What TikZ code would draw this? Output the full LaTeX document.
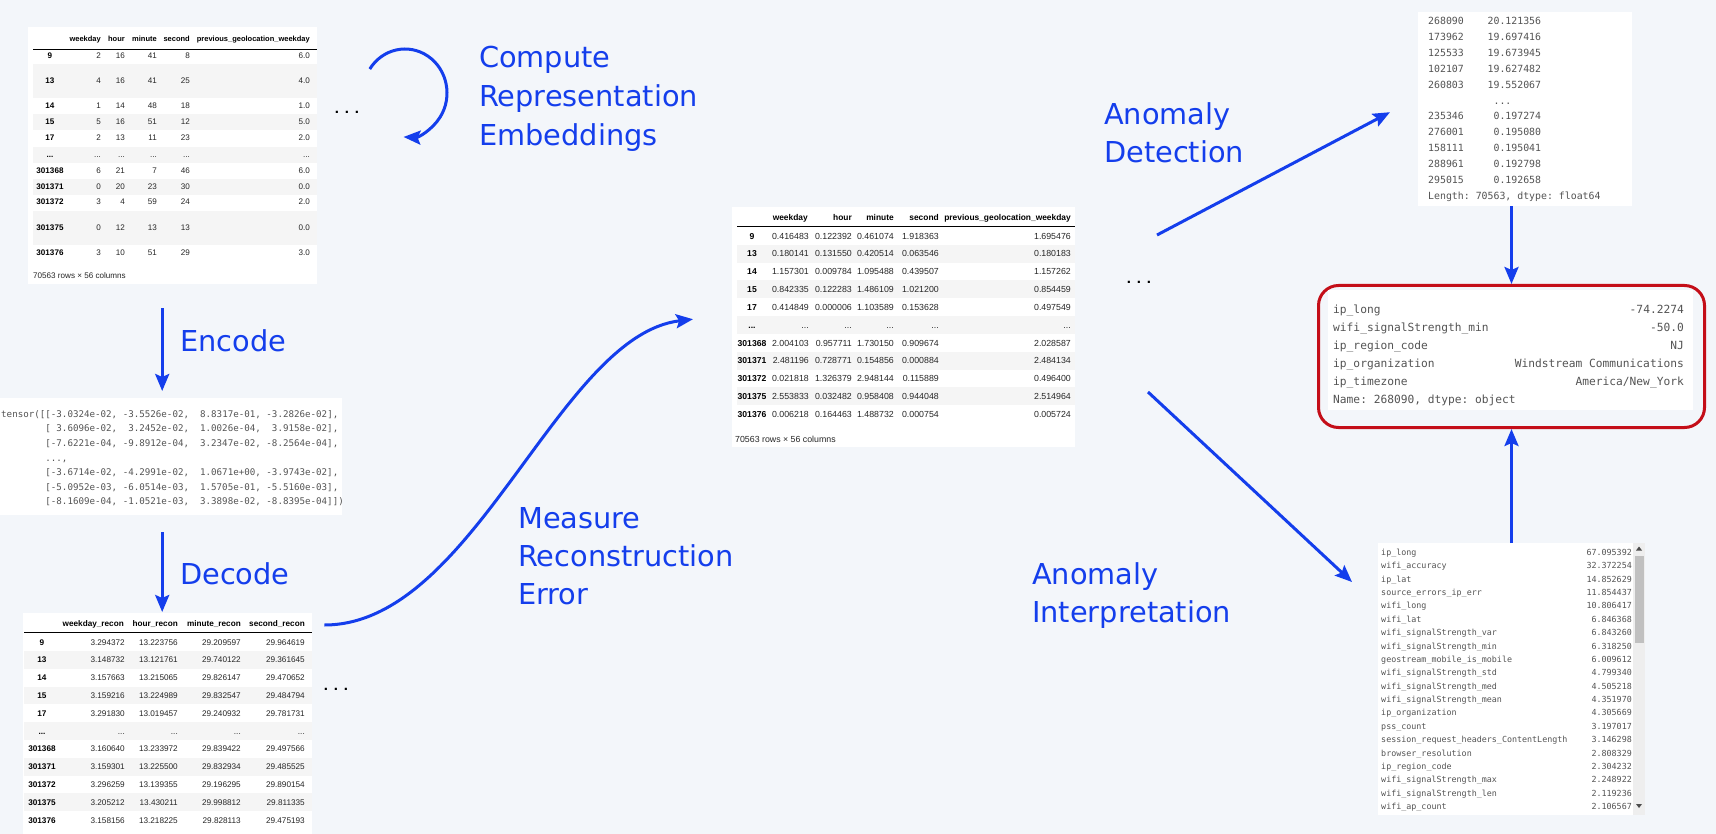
\documentclass[tikz,border=0pt]{standalone}
\usepackage{fontspec}
\setmainfont{Liberation Sans}
\newfontfamily\labelfont{DejaVu Sans}
\newfontfamily\codefont{DejaVu Sans Mono}
\usetikzlibrary{arrows.meta,calc}

\definecolor{canvas}{RGB}{243,246,250}
\definecolor{flow}{RGB}{20,62,236}
\definecolor{alert}{RGB}{196,14,24}
\definecolor{stripe}{RGB}{245,245,245}
\definecolor{ink}{RGB}{38,38,38}
\definecolor{codeink}{RGB}{84,84,84}
\definecolor{scrolltrack}{RGB}{238,238,238}
\definecolor{scrollthumb}{RGB}{192,192,192}

\newcommand\ellip{...}

\tikzset{
  arr/.style={draw=flow, line width=3pt, -{Stealth[length=17pt,width=14pt,inset=3pt]}},
  lbl/.style={font=\labelfont\fontsize{28.8}{34}\selectfont, text=flow, anchor=base west, inner sep=0},
  panel/.style={fill=white, draw=none, inner sep=0, anchor=north west},
  dotsnode/.style={inner sep=0, font=\fontsize{15}{15}\selectfont\bfseries, text=black},
  tcell/.style={inner sep=0, text=ink},
  % first table
  cA/.style={tcell, anchor=base east, font=\fontsize{8.1}{9}\selectfont},
  ixA/.style={tcell, anchor=base, font=\fontsize{8.1}{9}\selectfont\bfseries, text=black},
  hA/.style={tcell, anchor=base east, font=\fontsize{7.5}{9}\selectfont\bfseries, text=black},
  % error table
  cB/.style={tcell, anchor=base east, font=\fontsize{8.8}{10}\selectfont},
  ixB/.style={tcell, anchor=base, font=\fontsize{8.6}{10}\selectfont\bfseries, text=black},
  hB/.style={tcell, anchor=base east, font=\fontsize{8.4}{10}\selectfont\bfseries, text=black},
  % reconstruction table
  cC/.style={tcell, anchor=base east, font=\fontsize{8.2}{9}\selectfont},
  ixC/.style={tcell, anchor=base, font=\fontsize{8.2}{9}\selectfont\bfseries, text=black},
  hC/.style={tcell, anchor=base east, font=\fontsize{8.2}{9}\selectfont\bfseries, text=black},
  % code panels
  tens/.style={inner sep=0, anchor=base west, text=codeink, font=\codefont\fontsize{9.18}{11}\selectfont},
  ser/.style={inner sep=0, text=codeink, font=\codefont\fontsize{9.87}{12}\selectfont},
  rec/.style={inner sep=0, text=codeink, font=\codefont\fontsize{11.23}{13}\selectfont},
  imp/.style={inner sep=0, text=codeink, font=\codefont\fontsize{8.36}{10}\selectfont},
}

\begin{document}
\begin{tikzpicture}[x=1pt,y=-1pt]
\useasboundingbox (0,0) rectangle (1716,834);
\fill[canvas] (0,0) rectangle (1716,834);

% ---------------- input table ----------------
\node[panel, minimum width=289, minimum height=257] (t1) at (28,27) {};
\foreach \ya/\yb in {64/98,114/130,147/163,179/195,211/245}
  \fill[stripe] (33,\ya) rectangle (317,\yb);
\draw[line width=0.9pt] (33,49) -- (317,49);
\node[hA] (t1-h1) at (101,42) {weekday};
\node[hA] (t1-h2) at (125,42) {hour};
\node[hA] (t1-h3) at (157,42) {minute};
\node[hA] (t1-h4) at (190,42) {second};
\node[hA] (t1-h5) at (310,42) {previous\_geolocation\_weekday};
\foreach \y/\ix/\pa/\pb/\pc/\pd/\pe [count=\n] in {
  59/9/2/16/41/8/6.0, 84/13/4/16/41/25/4.0, 109/14/1/14/48/18/1.0,
  125/15/5/16/51/12/5.0, 141/17/2/13/11/23/2.0,
  158/\ellip/\ellip/\ellip/\ellip/\ellip/\ellip,
  174/301368/6/21/7/46/6.0, 190/301371/0/20/23/30/0.0, 205/301372/3/4/59/24/2.0,
  231/301375/0/12/13/13/0.0, 256/301376/3/10/51/29/3.0}{
  \node[ixA] (t1-\n-0) at (50,\y) {\ix};
  \node[cA] (t1-\n-1) at (101,\y) {\pa};
  \node[cA] (t1-\n-2) at (125,\y) {\pb};
  \node[cA] (t1-\n-3) at (157,\y) {\pc};
  \node[cA] (t1-\n-4) at (190,\y) {\pd};
  \node[cA] (t1-\n-5) at (310,\y) {\pe};
}
\node[tcell, anchor=base west, font=\fontsize{8.1}{9}\selectfont] (t1-foot) at (33,279) {70563 rows × 56 columns};
\node[dotsnode] (dots1) at (347,112) {.\kern5.8pt.\kern5.8pt.};

% loop: computing embeddings
\coordinate (loopc) at (405,93);
\draw[arr] ($(loopc)+(213:42 and 44)$) arc[start angle=213, end angle=452, x radius=42, y radius=44];
\node[lbl] (cmp1) at (479,68) {Compute};
\node[lbl] (cmp2) at (479,107) {Representation};
\node[lbl] (cmp3) at (479,146) {Embeddings};

% ---------------- encoded tensor ----------------
\node[panel, minimum width=342, minimum height=117] (tensbox) at (0,398) {};
\node[tens] (tl1) at (1,417.3) {tensor([[-3.0324e-02,~-3.5526e-02,~~8.8317e-01,~-3.2826e-02],};
\node[tens] (tl2) at (45.2,431.9) {[~3.6096e-02,~~3.2452e-02,~~1.0026e-04,~~3.9158e-02],};
\node[tens] (tl3) at (45.2,446.5) {[-7.6221e-04,~-9.8912e-04,~~3.2347e-02,~-8.2564e-04],};
\node[tens] (tl4) at (45.2,461.1) {...,};
\node[tens] (tl5) at (45.2,475.7) {[-3.6714e-02,~-4.2991e-02,~~1.0671e+00,~-3.9743e-02],};
\node[tens] (tl6) at (45.2,490.3) {[-5.0952e-03,~-6.0514e-03,~~1.5705e-01,~-5.5160e-03],};
\node[tens] (tl7) at (45.2,504.9) {[-8.1609e-04,~-1.0521e-03,~~3.3898e-02,~-8.8395e-04]])};

\draw[arr] ([shift={(-10.5,24)}]t1.south) -- ([shift={(-9,-7)}]tensbox.north);
\node[lbl] (enc) at (180,352) {Encode};

% ---------------- reconstruction table ----------------
\node[panel, minimum width=289, minimum height=222] (t3) at (23,613) {};
\foreach \n in {2,4,6,8,10}
  \fill[stripe] (24,{633.1+17.8*(\n-1)}) rectangle (312,{650.9+17.8*(\n-1)});
\draw[line width=0.9pt] (24,632) -- (312,632);
\node[hC] (t3-h1) at (124,626) {weekday\_recon};
\node[hC] (t3-h2) at (178,626) {hour\_recon};
\node[hC] (t3-h3) at (241,626) {minute\_recon};
\node[hC] (t3-h4) at (305,626) {second\_recon};
\foreach \ix/\pa/\pb/\pc/\pd [count=\n] in {
  9/3.294372/13.223756/29.209597/29.964619,
  13/3.148732/13.121761/29.740122/29.361645,
  14/3.157663/13.215065/29.826147/29.470652,
  15/3.159216/13.224989/29.832547/29.484794,
  17/3.291830/13.019457/29.240932/29.781731,
  \ellip/\ellip/\ellip/\ellip/\ellip,
  301368/3.160640/13.233972/29.839422/29.497566,
  301371/3.159301/13.225500/29.832934/29.485525,
  301372/3.296259/13.139355/29.196295/29.890154,
  301375/3.205212/13.430211/29.998812/29.811335,
  301376/3.158156/13.218225/29.828113/29.475193}{
  \node[ixC] (t3-\n-0) at (42,{645+17.8*(\n-1)}) {\ix};
  \node[cC] (t3-\n-1) at (125,{645+17.8*(\n-1)}) {\pa};
  \node[cC] (t3-\n-2) at (178,{645+17.8*(\n-1)}) {\pb};
  \node[cC] (t3-\n-3) at (241,{645+17.8*(\n-1)}) {\pc};
  \node[cC] (t3-\n-4) at (305,{645+17.8*(\n-1)}) {\pd};
}
\node[dotsnode] (dots3) at (336,689) {.\kern5.8pt.\kern5.8pt.};

\draw[arr] ([shift={(-9,17)}]tensbox.south) -- ([shift={(-5.5,-1)}]t3.north);
\node[lbl] (dec) at (180,584) {Decode};

% ---------------- reconstruction error table ----------------
\node[panel, minimum width=343, minimum height=240] (t2) at (732,207) {};
\foreach \n in {2,4,6,8,10}
  \fill[stripe] (737,{227.1+17.8*(\n-1)}) rectangle (1075,{244.9+17.8*(\n-1)});
\draw[line width=0.9pt] (737,226) -- (1075,226);
\node[hB] (t2-h1) at (808,221) {weekday};
\node[hB] (t2-h2) at (852,221) {hour};
\node[hB] (t2-h3) at (894,221) {minute};
\node[hB] (t2-h4) at (939,221) {second};
\node[hB] (t2-h5) at (1071,221) {previous\_geolocation\_weekday};
\foreach \ix/\pa/\pb/\pc/\pd/\pe [count=\n] in {
  9/0.416483/0.122392/0.461074/1.918363/1.695476,
  13/0.180141/0.131550/0.420514/0.063546/0.180183,
  14/1.157301/0.009784/1.095488/0.439507/1.157262,
  15/0.842335/0.122283/1.486109/1.021200/0.854459,
  17/0.414849/0.000006/1.103589/0.153628/0.497549,
  \ellip/\ellip/\ellip/\ellip/\ellip/\ellip,
  301368/2.004103/0.957711/1.730150/0.909674/2.028587,
  301371/2.481196/0.728771/0.154856/0.000884/2.484134,
  301372/0.021818/1.326379/2.948144/0.115889/0.496400,
  301375/2.553833/0.032482/0.958408/0.944048/2.514964,
  301376/0.006218/0.164463/1.488732/0.000754/0.005724}{
  \node[ixB] (t2-\n-0) at (752,{239.2+17.8*(\n-1)}) {\ix};
  \node[cB] (t2-\n-1) at (809,{239.2+17.8*(\n-1)}) {\pa};
  \node[cB] (t2-\n-2) at (852,{239.2+17.8*(\n-1)}) {\pb};
  \node[cB] (t2-\n-3) at (894,{239.2+17.8*(\n-1)}) {\pc};
  \node[cB] (t2-\n-4) at (939,{239.2+17.8*(\n-1)}) {\pd};
  \node[cB] (t2-\n-5) at (1071,{239.2+17.8*(\n-1)}) {\pe};
}
\node[tcell, anchor=base west, font=\fontsize{8.8}{10}\selectfont] (t2-foot) at (735,442) {70563 rows × 56 columns};
\node[dotsnode] (dots2) at (1139,282) {.\kern5.8pt.\kern5.8pt.};

\draw[arr] ($(t3.north east)+(12,12)$) .. controls +(150,0) and +(-135,16) .. ($(t2.west)+(-39,-8)$);
\node[lbl] (meas1) at (518,528) {Measure};
\node[lbl] (meas2) at (518,566) {Reconstruction};
\node[lbl] (meas3) at (518,604) {Error};

% ---------------- anomaly scores ----------------
\node[panel, minimum width=214, minimum height=194] (ser) at (1418,12) {};
\foreach \ln [count=\n] in {
  268090~~~~20.121356, 173962~~~~19.697416, 125533~~~~19.673945,
  102107~~~~19.627482, 260803~~~~19.552067, ~~~~~~~~~~~\ellip,
  235346~~~~~0.197274, 276001~~~~~0.195080, 158111~~~~~0.195041,
  288961~~~~~0.192798, 295015~~~~~0.192658}{
  \node[ser, anchor=base west] (ser-\n) at (1428,{24.6+15.9*(\n-1)}) {\ln};
}
\node[ser, anchor=base west] (ser-foot) at (1428,199.5) {Length:~70563,~dtype:~float64};

\draw[arr] ($(dots2)+(18,-47)$) -- ($(ser.west)+(-28,3)$);
\node[lbl] (det1) at (1104,125) {Anomaly};
\node[lbl] (det2) at (1104,163) {Detection};

% ---------------- flagged record ----------------
\node[draw=alert, line width=3pt, rounded corners=20pt, minimum width=386, minimum height=142, inner sep=0, anchor=north west] (red) at (1317,284) {};
\node[panel, minimum width=365, minimum height=120] (redpanel) at (1328,290) {};
\foreach \nm/\vl [count=\n] in {
  ip\_long/-74.2274, wifi\_signalStrength\_min/-50.0, ip\_region\_code/NJ,
  ip\_organization/Windstream~Communications, ip\_timezone/{America/New\_York}}{
  \node[rec, anchor=base west] (rec-\n-0) at (1333,{313+18*(\n-1)}) {\nm};
  \node[rec, anchor=base east] (rec-\n-1) at (1684,{313+18*(\n-1)}) {\vl};
}
\node[rec, anchor=base west] (rec-foot) at (1333,403) {Name:~268090,~dtype:~object};

\draw[arr] (ser.south -| red.north) -- (red.north);

% ---------------- feature contributions ----------------
\node[panel, minimum width=267, minimum height=272] (interp) at (1378,543) {};
\fill[scrolltrack] (1633,543) rectangle (1645,815);
\fill[scrollthumb] (1634.5,556) rectangle (1643.5,643);
\fill[black!70] (1636,550.5) -- (1642,550.5) -- (1639,546.5) -- cycle;
\fill[black!70] (1636,804) -- (1642,804) -- (1639,808) -- cycle;
\foreach \nm/\vl [count=\n] in {
  ip\_long/67.095392, wifi\_accuracy/32.372254, ip\_lat/14.852629,
  source\_errors\_ip\_err/11.854437, wifi\_long/10.806417, wifi\_lat/6.846368,
  wifi\_signalStrength\_var/6.843260, wifi\_signalStrength\_min/6.318250,
  geostream\_mobile\_is\_mobile/6.009612, wifi\_signalStrength\_std/4.799340,
  wifi\_signalStrength\_med/4.505218, wifi\_signalStrength\_mean/4.351970,
  ip\_organization/4.305669, pss\_count/3.197017,
  session\_request\_headers\_ContentLength/3.146298, browser\_resolution/2.808329,
  ip\_region\_code/2.304232, wifi\_signalStrength\_max/2.248922,
  wifi\_signalStrength\_len/2.119236, wifi\_ap\_count/2.106567}{
  \node[imp, anchor=base west] (imp-\n-0) at (1381,{555.3+13.39*(\n-1)}) {\nm};
  \node[imp, anchor=base east] (imp-\n-1) at (1632,{555.3+13.39*(\n-1)}) {\vl};
}

\draw[arr] ($(dots2)+(9,110)$) -- ($(interp.north west)+(-26,39)$);
\node[lbl] (int1) at (1032,584) {Anomaly};
\node[lbl] (int2) at (1032,622) {Interpretation};

\draw[arr] (interp.north -| red.south) -- (red.south);
\end{tikzpicture}
\end{document}
